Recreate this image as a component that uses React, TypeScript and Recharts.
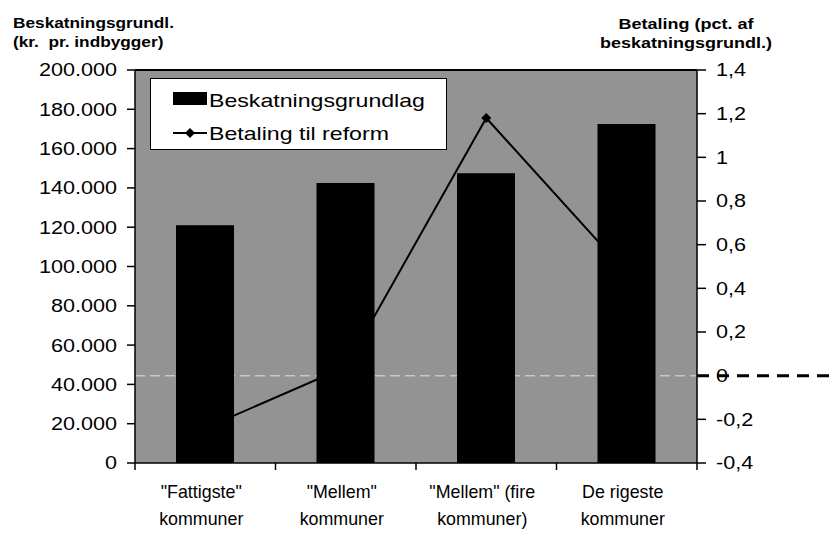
import React from 'react';
import { ComposedChart, Bar, Line, XAxis, YAxis, CartesianGrid, ReferenceLine, Legend } from 'recharts';

const categories = ['"Fattigste"\nkommuner', '"Mellem"\nkommuner', '"Mellem" (fire\nkommuner)', 'De rigeste\nkommuner'];
const taxBase = [121000, 142500, 147500, 172500];
const payment = [-0.24, 0.04, 1.18, 0.47];
const leftTicks = [0, 20000, 40000, 60000, 80000, 100000, 120000, 140000, 160000, 180000, 200000];
const rightTicks = [-0.4, -0.2, 0, 0.2, 0.4, 0.6, 0.8, 1, 1.2, 1.4];
const barName = 'Beskatningsgrundlag';
const lineName = 'Betaling til reform';

const data = categories.map((c, i) => ({ name: c, base: taxBase[i], pay: payment[i] }));

const W = 835;
const H = 533;
const LEFT_W = 135;
const RIGHT_W = 138;
const TOP = 70;
const XAXIS_H = 70;
const PLOT_W = W - LEFT_W - RIGHT_W;
const FONT = '"Liberation Sans", Arial, Helvetica, sans-serif';
const SX = 1.2;

const fmtLeft = (v: number) => (v === 0 ? '0' : String(v).replace(/\B(?=(\d{3})+(?!\d))/g, '.'));
const fmtRight = (v: number) => String(Math.round(v * 10) / 10).replace('.', ',');

const LeftTick = (p: any) => (
  <g transform={`translate(${p.x},${p.y})`}>
    <text transform={`scale(${SX},1)`} textAnchor="end" dy="0.36em" fontSize={18} fontFamily={FONT} fill="#000">
      {fmtLeft(p.payload.value)}
    </text>
  </g>
);

const RightTick = (p: any) => (
  <g transform={`translate(${p.x},${p.y})`}>
    <text transform={`scale(${SX},1)`} textAnchor="start" dy="0.36em" fontSize={18} fontFamily={FONT} fill="#000">
      {fmtRight(p.payload.value)}
    </text>
  </g>
);

const XTick = (p: any) => {
  const { x, y, payload, index } = p;
  const [l1, l2] = String(payload.value).split('\n');
  const half = PLOT_W / categories.length / 2;
  return (
    <g>
      <line x1={x - half} x2={x - half} y1={y} y2={y + 7} stroke="#000" strokeWidth={1.5} />
      {index === categories.length - 1 && (
        <line x1={x + half} x2={x + half} y1={y} y2={y + 7} stroke="#000" strokeWidth={1.5} />
      )}
      <g transform={`translate(${x - 4},${y})`}>
        <text transform="scale(1.02,1)" textAnchor="middle" fontSize={17.5} fontFamily={FONT} fill="#000">
          <tspan x={0} y={35}>{l1}</tspan>
          <tspan x={0} y={62}>{l2}</tspan>
        </text>
      </g>
    </g>
  );
};

const Diamond = (p: any) => {
  const { cx, cy } = p;
  if (cx == null || cy == null) return <g />;
  const r = 5;
  return <polygon points={`${cx},${cy - r} ${cx + r},${cy} ${cx},${cy + r} ${cx - r},${cy}`} fill="#000" />;
};

const ZeroLine = (p: any) => {
  const { x1, x2, y1 } = p;
  const lo = Math.min(x1, x2);
  const hi = Math.max(x1, x2);
  return (
    <g>
      <line x1={lo} y1={y1} x2={hi} y2={y1} stroke="#c8c8c8" strokeWidth={1.5} strokeDasharray="10 5" />
      <line x1={hi} y1={y1} x2={W} y2={y1} stroke="#000" strokeWidth={3} strokeDasharray="12 8" />
    </g>
  );
};

const LegendBox = () => (
  <svg width={297} height={72} style={{ display: 'block' }}>
    <rect x={0.5} y={0.5} width={296} height={71} fill="#fff" stroke="#000" />
    <rect x={23} y={14} width={34} height={13} fill="#000" />
    <g transform="translate(59,29)">
      <text transform="scale(1.25,1)" fontSize={18.5} fontFamily={FONT} fill="#000">{barName}</text>
    </g>
    <line x1={23} x2={57} y1={55} y2={55} stroke="#000" strokeWidth={2} />
    <polygon points="40,50 45,55 40,60 35,55" fill="#000" />
    <g transform="translate(59,62)">
      <text transform="scale(1.25,1)" fontSize={18.5} fontFamily={FONT} fill="#000">{lineName}</text>
    </g>
  </svg>
);

export default function App() {
  return (
    <div style={{ position: 'absolute', left: 0, top: 0, width: W, height: H, background: '#fff' }}>
      <ComposedChart width={W} height={H} data={data} margin={{ top: TOP, right: 0, bottom: 0, left: 0 }}>
        <CartesianGrid yAxisId="left" horizontal={false} vertical={false} fill="#939393" />
        <XAxis
          dataKey="name"
          height={XAXIS_H}
          tickSize={0}
          tickMargin={0}
          tickLine={false}
          tick={<XTick />}
          interval={0}
          axisLine={{ stroke: '#000', strokeWidth: 1.5 }}
        />
        <YAxis
          yAxisId="left"
          width={LEFT_W}
          domain={[0, 200000]}
          ticks={leftTicks}
          interval={0}
          tickSize={8}
          tickMargin={10}
          tick={<LeftTick />}
          axisLine={{ stroke: '#000', strokeWidth: 1.5 }}
          tickLine={{ stroke: '#000', strokeWidth: 1.5 }}
        />
        <YAxis
          yAxisId="right"
          orientation="right"
          width={RIGHT_W}
          domain={[-0.4, 1.4]}
          ticks={rightTicks}
          interval={0}
          tickSize={9}
          tickMargin={10}
          tick={<RightTick />}
          axisLine={{ stroke: '#000', strokeWidth: 1.5 }}
          tickLine={{ stroke: '#000', strokeWidth: 1.5 }}
        />
        <ReferenceLine yAxisId="right" y={0} shape={<ZeroLine />} zIndex={200} />
        <Line
          yAxisId="right"
          dataKey="pay"
          name={lineName}
          type="linear"
          stroke="#000"
          strokeWidth={2}
          dot={<Diamond />}
          activeDot={false}
          isAnimationActive={false}
          zIndex={250}
        />
        <Bar yAxisId="left" dataKey="base" name={barName} fill="#000" barSize={58} isAnimationActive={false} zIndex={300} />
        <ReferenceLine yAxisId="left" y={200000} stroke="#000" strokeWidth={2} zIndex={600} />
        <Legend
          layout="vertical"
          align="center"
          verticalAlign="middle"
          content={<LegendBox />}
          wrapperStyle={{ left: 150, top: 78, width: 297, height: 72 }}
        />
      </ComposedChart>
      <svg width={W} height={H} style={{ position: 'absolute', left: 0, top: 0, pointerEvents: 'none' }}>
        <g transform="translate(13,28)">
          <text transform="scale(1.15,1)" fontSize={15} fontWeight="bold" fontFamily={FONT} fill="#000">Beskatningsgrundl.</text>
        </g>
        <g transform="translate(13,47)">
          <text transform="scale(1.15,1)" fontSize={15} fontWeight="bold" fontFamily={FONT} fill="#000" style={{ whiteSpace: 'pre' }}>
            (kr.  pr. indbygger)
          </text>
        </g>
        <g transform="translate(686,29)">
          <text transform="scale(1.2,1)" textAnchor="middle" fontSize={15} fontWeight="bold" fontFamily={FONT} fill="#000">Betaling (pct. af</text>
        </g>
        <g transform="translate(686,48)">
          <text transform="scale(1.2,1)" textAnchor="middle" fontSize={15} fontWeight="bold" fontFamily={FONT} fill="#000">beskatningsgrundl.)</text>
        </g>
      </svg>
    </div>
  );
}
